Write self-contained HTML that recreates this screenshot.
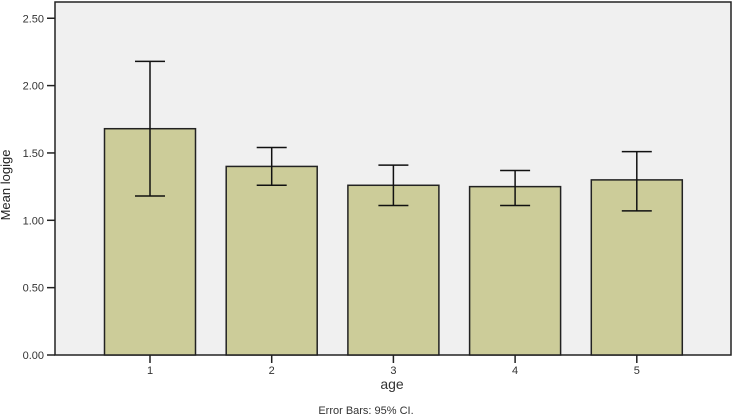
<!DOCTYPE html>
<html><head><meta charset="utf-8"><style>
body{margin:0;background:#fff;}
svg{display:block;font-family:"Liberation Sans",sans-serif;}
</style></head><body>
<svg id="chart" width="732" height="417">
<rect x="55" y="2" width="676" height="353" fill="#f0f0f0" stroke="#222" stroke-width="1.5"/>
<g id="bars"></g>
<text x="392" y="389" text-anchor="middle" font-size="14" fill="#333">age</text>
<text x="10" y="185" text-anchor="middle" font-size="13" fill="#222" transform="rotate(-90 10 185)">Mean logige</text>
<text x="366" y="414" text-anchor="middle" font-size="11" fill="#333">Error Bars: 95% CI.</text>
</svg>
<script>
const categories=["1","2","3","4","5"];
const means=[1.68,1.40,1.26,1.25,1.30];
const upper=[2.18,1.54,1.41,1.37,1.51];
const lower=[1.18,1.26,1.11,1.11,1.07];
const yTicks=[0,0.5,1,1.5,2,2.5];
const yTickLabels=["0.00","0.50","1.00","1.50","2.00","2.50"];
const NS="http://www.w3.org/2000/svg";
const y0=355,pxPerUnit=134.7;
function yS(v){return y0-v*pxPerUnit;}
function xS(i){return 150+i*121.7;}
const svg=document.getElementById('chart');
const g=document.getElementById('bars');
function mk(t,a,parent){const e=document.createElementNS(NS,t);for(const k in a)e.setAttribute(k,a[k]);(parent||g).appendChild(e);return e;}
yTicks.forEach((v,i)=>{
 const l=mk('line',{x1:47,x2:55,y1:yS(v),y2:yS(v),stroke:'#222','stroke-width':1.5});
 
 
 const t=mk('text',{x:44,y:yS(v)+4,'text-anchor':'end','font-size':11,fill:'#333'});
 t.textContent=yTickLabels[i];
 
 
});
categories.forEach((c,i)=>{
 const cx=xS(i),w=91;
 const r=mk('rect',{x:cx-w/2,y:yS(means[i]),width:w,height:yS(0)-yS(means[i]),fill:'#cccc99',stroke:'#222','stroke-width':1.5});
 
 
 const eg=mk('g',{stroke:'#111','stroke-width':1.5});
 
 
 mk('line',{x1:cx,x2:cx,y1:yS(upper[i]),y2:yS(lower[i])},eg);
 mk('line',{x1:cx-15,x2:cx+15,y1:yS(upper[i]),y2:yS(upper[i])},eg);
 mk('line',{x1:cx-15,x2:cx+15,y1:yS(lower[i]),y2:yS(lower[i])},eg);
 const tk=mk('line',{x1:cx,x2:cx,y1:355,y2:363,stroke:'#222','stroke-width':1.5});
 
 
 const t=mk('text',{x:cx,y:374,'text-anchor':'middle','font-size':11,fill:'#333'});
 t.textContent=c;
 
 
});
</script>
</body></html>
